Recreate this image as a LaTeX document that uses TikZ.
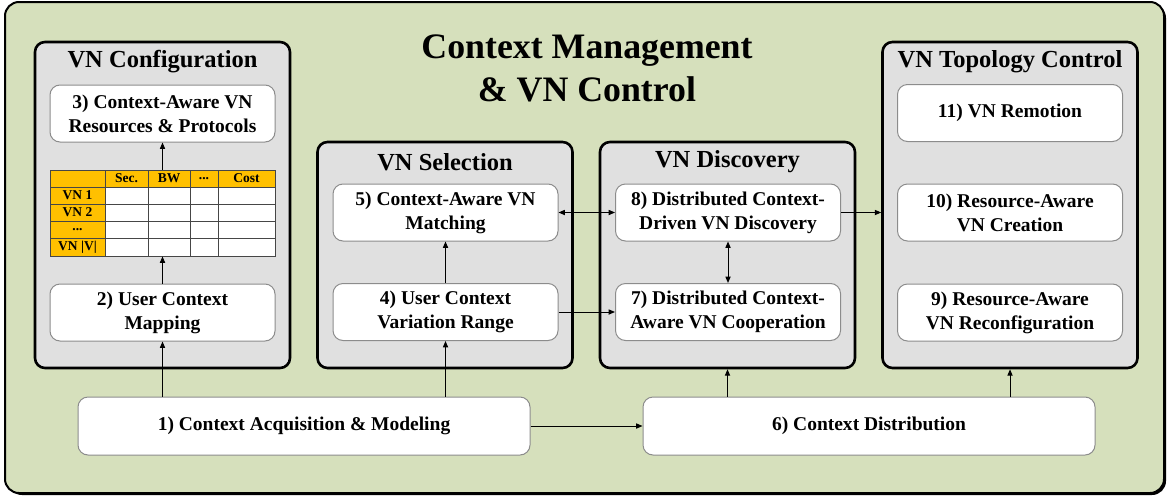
\documentclass[tikz,border=0pt]{standalone}
\usepackage{fontspec}
\setmainfont{Liberation Serif}
\usetikzlibrary{arrows.meta}
\definecolor{bggreen}{RGB}{214,224,188}
\definecolor{grpgray}{RGB}{224,224,224}
\definecolor{tblorange}{RGB}{255,192,0}
\definecolor{boxline}{RGB}{140,140,140}
\definecolor{gridline}{RGB}{70,70,70}
\begin{document}
\begin{tikzpicture}[x=0.5pt,y=-0.5pt,
  grp/.style={draw=black,line width=1.3pt,fill=grpgray,rounded corners=5pt,inner sep=0pt,minimum width=127.5pt},
  hdr/.style={font=\fontsize{12.25}{14}\selectfont\bfseries,inner sep=0pt},
  box/.style={draw=boxline,line width=0.5pt,fill=white,rounded corners=5pt,minimum width=112.5pt,minimum height=28.5pt,align=center,font=\fontsize{9.75}{12}\selectfont\bfseries,inner sep=0pt},
  wide/.style={box,minimum width=226pt,minimum height=29pt},
  tt/.style={font=\fontsize{6.75}{8}\selectfont\bfseries,inner sep=0pt},
  arr/.style={-{Triangle[length=3.2pt,width=2.6pt]},line width=0.5pt},
  darr/.style={{Triangle[length=3.2pt,width=2.6pt]}-{Triangle[length=3.2pt,width=2.6pt]},line width=0.5pt}]
\useasboundingbox (0,0) rectangle (1170,498);
% outer frame
\fill[black,rounded corners=7pt] (8,4) rectangle (1166,495);
\draw[fill=bggreen,line width=1pt,rounded corners=7pt] (5,2) rectangle (1164,493);
% title
\node[font=\fontsize{17.9}{21.5}\selectfont\bfseries,align=center,inner sep=0pt] (title) at (587,68) {Context Management\\\& VN Control};
% groups
\node[grp,minimum height=163pt] (cfg) at (162.5,205) {};
\node[grp,minimum height=113pt] (sel) at (445,255) {};
\node[grp,minimum height=113pt] (disc) at (727.5,255) {};
\node[grp,minimum height=163pt] (topo) at (1010,205) {};
\node[hdr] (hcfg) at (162.5,62) {VN Configuration};
\node[hdr] (hsel) at (445,162) {VN Selection};
\node[hdr] (hdisc) at (727.5,162) {VN Discovery};
\node[hdr] (htopo) at (1010,62) {VN Topology Control};
% boxes
\node[box] (b3) at (162.5,113.5) {3) Context-Aware VN\\Resources \& Protocols};
\node[box] (b2) at (162.5,312.5) {2) User Context\\Mapping};
\node[box] (b5) at (445.5,212.5) {5) Context-Aware VN\\Matching};
\node[box] (b4) at (445.5,312) {4) User Context\\Variation Range};
\node[box] (b8) at (728,212.5) {8) Distributed Context-\\Driven VN Discovery};
\node[box] (b7) at (728,312) {7) Distributed Context-\\Aware VN Cooperation};
\node[box] (b11) at (1010,113) {11) VN Remotion};
\node[box] (b10) at (1010,212.5) {10) Resource-Aware\\VN Creation};
\node[box] (b9) at (1010,312.5) {9) Resource-Aware\\VN Reconfiguration};
\node[wide] (b1) at (304,426) {1) Context Acquisition \& Modeling};
\node[wide] (b6) at (869,426) {6) Context Distribution};
% table
\fill[white] (50,170) rectangle (275,256);
\fill[tblorange] (50,170) rectangle (275,187);
\fill[tblorange] (50,170) rectangle (105,256);
\draw[gridline,line width=0.4pt] (50,170) rectangle (275,256);
\foreach \yy in {187,204,221,238.5} \draw[gridline,line width=0.4pt] (50,\yy) -- (275,\yy);
\foreach \xx in {105,148,190,218} \draw[gridline,line width=0.4pt] (\xx,170) -- (\xx,256);
\node[tt] (ts) at (126.5,178.5) {Sec.};
\node[tt] (tb) at (169,178.5) {BW};
\node[tt] (td) at (204,178.5) {...};
\node[tt] (tc) at (246.5,178.5) {Cost};
\node[tt] (r1) at (77.5,195.5) {VN 1};
\node[tt] (r2) at (77.5,212.5) {VN 2};
\node[tt] (r3) at (77.5,229.7) {...};
\node[tt] (r4) at (77.5,247.2) {VN |V|};
\node[inner sep=0pt,minimum width=112.5pt,minimum height=43pt] (tbl) at (162.5,213) {};
% connectors
\draw[arr] (b2.south |- b1.north) -- (b2.south);
\draw[arr] (b2.north) -- (tbl.south);
\draw[arr] (tbl.north) -- (b3.south);
\draw[arr] (b4.south |- b1.north) -- (b4.south);
\draw[arr] (b4.north) -- (b5.south);
\draw[arr] (b1.east) -- (b6.west);
\draw[arr] (disc.south |- b6.north) -- (disc.south);
\draw[arr] (topo.south |- b6.north) -- (topo.south);
\draw[darr] (b5.east) -- (b8.west);
\draw[arr] (b4.east) -- (b7.west);
\draw[darr] (b8.south) -- (b7.north);
\draw[arr] (b8.east) -- (b8.east -| topo.west);
\end{tikzpicture}
\end{document}
